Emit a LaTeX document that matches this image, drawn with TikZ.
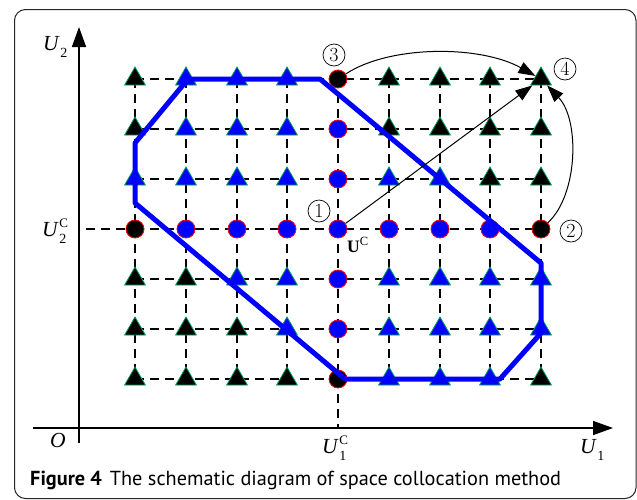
\documentclass[tikz,border=0pt]{standalone}
\usepackage{fontspec}
\newfontfamily\timesf{Liberation Serif}
\newfontfamily\capfont{PT Sans}
\usetikzlibrary{shapes.geometric,arrows.meta}
\definecolor{tgreen}{RGB}{0,160,90}
\definecolor{pblue}{RGB}{0,0,255}
\newcommand{\Ulab}[2]{\textit{U}\kern0.5pt\raisebox{9pt}{\rlap{\fontsize{13}{13}\selectfont #1}}\raisebox{-7pt}{\fontsize{14}{14}\selectfont #2}}
\begin{document}
\begin{tikzpicture}[x=1pt,y=-1pt,
  gridline/.style={dash pattern=on 9pt off 6pt, line width=1.4pt},
  tri/.style={regular polygon, regular polygon sides=3, minimum size=24pt, inner sep=0pt, draw=tgreen, line width=0.8pt},
  btri/.style={tri, fill=black},
  ltri/.style={tri, fill=pblue},
  dot/.style={circle, minimum size=18pt, inner sep=0pt, draw=red, line width=0.8pt},
  bdot/.style={dot, fill=black},
  ldot/.style={dot, fill=pblue},
  axisline/.style={line width=1.5pt, -{Triangle[length=20pt,width=14pt]}},
  arr/.style={line width=1pt, -{Triangle[length=17pt,width=12pt]}},
  num/.style={circle, draw, line width=0.7pt, minimum size=22pt, inner sep=0pt, font=\fontsize{20}{20}\selectfont},
  lab/.style={font=\timesf\fontsize{21.5}{21.5}\selectfont, inner sep=0pt, anchor=base west},
  poly/.style={draw=pblue, line width=5pt, line join=round}
]
\useasboundingbox (0,0) rectangle (637,499);
% frame
\draw[black!85, line width=1pt, rounded corners=11pt] (14.5,9.5) rectangle (636,498.5);
% grid
\foreach \j in {1,...,7} \draw[gridline] (135,{79+50*(\j-1)}) -- (541,{79+50*(\j-1)});
\foreach \i in {1,...,9} \draw[gridline] ({round(135+50.75*(\i-1))},79) -- ({round(135+50.75*(\i-1))},379);
\draw[gridline] (86,229) -- (135,229);
\draw[gridline] (338,379) -- (338,428);
% axes
\coordinate (ybot) at (79,443);
\coordinate (ytop) at (79,27);
\coordinate (xleft) at (33,428);
\coordinate (xright) at (613,428);
\draw[axisline] (ybot) -- (ytop);
\draw[axisline] (xleft) -- (xright);
% markers
\foreach \i/\j in {1/1,6/1,7/1,8/1,9/1,1/2,6/2,7/2,8/2,9/2,8/3,9/3,1/5,2/5,1/6,2/6,3/6,1/7,2/7,3/7,4/7,9/7}
  \node[btri] (m\i\j) at ({round(135+50.75*(\i-1))},{79+50*(\j-1)}) {};
\foreach \i/\j in {2/1,3/1,4/1,2/2,3/2,4/2,1/3,2/3,3/3,4/3,6/3,7/3,3/5,4/5,6/5,7/5,8/5,9/5,4/6,6/6,7/6,8/6,9/6,6/7,7/7,8/7}
  \node[ltri] (m\i\j) at ({round(135+50.75*(\i-1))},{79+50*(\j-1)}) {};
\foreach \i/\j in {5/1,1/4,9/4,5/7}
  \node[bdot] (m\i\j) at ({round(135+50.75*(\i-1))},{79+50*(\j-1)}) {};
\foreach \i/\j in {5/2,5/3,2/4,3/4,4/4,5/4,6/4,7/4,8/4,5/5,5/6}
  \node[ldot] (m\i\j) at ({round(135+50.75*(\i-1))},{79+50*(\j-1)}) {};
% polygon
\draw[poly] (188,79) -- (320,79) -- (541,263) -- (541,333) -- (500,379) -- (345,379) -- (135,203) -- (135,143) -- cycle;
% arrows
\draw[arr] (m54) -- (m91);
\draw[arr] (m51) .. controls +(52,-34) and +(-61,-34) .. (m91);
\draw[arr] (m94) .. controls +(37,-34) and +(39,41) .. (m91);
% circled numbers
\node[num] (n1) at (319,211) {1};
\node[num] (n2) at (571,231) {2};
\node[num] (n3) at (334,55) {3};
\node[num] (n4) at (565,69) {4};
% labels
\node[lab] (lu2) at (43,50) {\Ulab{}{2}};
\node[lab] (lu2c) at (42,236) {\Ulab{C}{2}};
\node[lab] (lu1c) at (322,453) {\Ulab{C}{1}};
\node[lab] (lu1) at (580,453) {\Ulab{}{1}};
\node[lab] (lo) at (50,447) {\textit{O}};
\node[inner sep=0pt, anchor=base west, font=\timesf\fontsize{17.5}{17.5}\selectfont] (uc) at (347,252) {\textbf{U}\raisebox{7pt}{\fontsize{12.5}{12.5}\selectfont C}};
% caption
\node[anchor=base west, inner sep=0pt, font=\capfont\fontsize{20.3}{20.3}\selectfont] (cap) at (30,485) {\textbf{Figure 4}\hspace{8pt}The schematic diagram of space collocation method};
\end{tikzpicture}
\end{document}
